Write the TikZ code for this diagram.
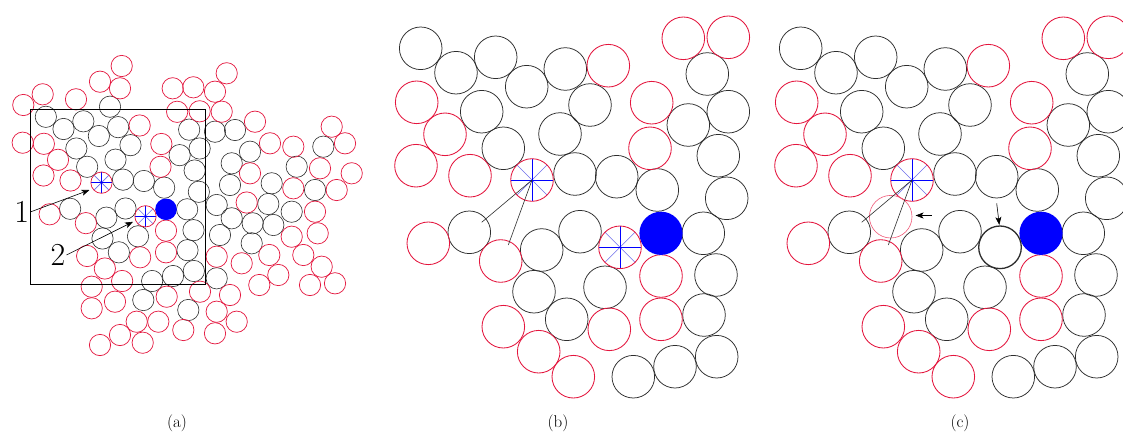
\documentclass[tikz,border=0pt]{standalone}
\usetikzlibrary{arrows.meta}
\definecolor{redc}{RGB}{228,22,62}
\definecolor{pinkc}{RGB}{240,90,120}
\definecolor{blkc}{RGB}{45,45,45}
\definecolor{spoke}{RGB}{0,0,255}
\definecolor{spokelt}{RGB}{110,110,235}
\newcommand\blacklist{420.7/48.3,456/72.7,495.7/57.3,526.7/86.7,565.3/69,481.7/111.7,590/105,560/134,503.3/148.3,575/174,616.7/176.7,657.3/190,469.3/232.3,541.7/250,580/231.7,534/291.7,605/287.3,566.7/319.3,633.3/376.7,675/366.7,716.7/356.7,704/315,716/275,703.3/233.3,726.7/198.3,718.3/155.7,728.3/111.7,688.3/125,707.3/74}
\newcommand\redlist{683.3/38.3,728.3/37.3,608.3/65.7,416.7/102.3,445/134.3,416/165.7,470/175.7,651.7/102.7,650/148.3,428.3/243.3,500.7/261,661/276,661/319.3,609.3/329.3,503.3/326.7,538.7/351.7,573.3/376.7}
\newcommand\ablacklist{110/106.7,215/131.7,235/130,323.3/146.7,250/151.7,231.7/163.3,296.7/166.7,230/185,271.7/183.3,315/190,216.7/205,268.3/204,291.7/211.7,231.7/218.3,252.7/223.3,273.3/225,220/235,251.7/243.3,216.7/278.3,188.3/310,143.3/300}
\newcommand\aredlist{121.7/66,100/81.7,120/88.3,42.7/94.3,23.3/105,76/99.3,172.7/88.3,193.3/87.3,215/91.7,226.7/73.3,221.7/111.7,255/121.7,22.7/142.7,270/143.3,293.3/146.7,331.7/126.7,345/143.3,250/173.3,320/168.3,351.7/173.3,293.3/188.3,336.7/190,246.7/202.5,315/211.7,291.7/236.7,317.7/233.3,216.7/256.7,241.7/263.3,269.3/255,303.3/255,321.7/266.7,278.3/275,259.3/285,310/285,335/283.3,200/291.7,230/295,216.7/311.7,236.7/321.7,183.3/330,215/333.3,91.7/286.7,91.7/308.3,115/301.7,166.7/296.7,136.7/321.7,158.3/321.7,100/345,120/335,142.7/342.7}
\newcommand\drawspokes[2]{%
  \draw[spokelt, line width=0.6pt] (#1,#2) ++(45:21.3) -- ++(225:42.6);
  \draw[spokelt, line width=0.6pt] (#1,#2) ++(135:21.3) -- ++(315:42.6);
  \draw[spoke, line width=0.8pt] (#1,#2) ++(-21.3,0) -- ++(42.6,0);
  \draw[spoke, line width=0.8pt] (#1,#2) ++(0,-21.3) -- ++(0,42.6);
  \draw[rd] (#1,#2) circle[radius=21.3];}
\newcommand\drawbase{%
  \foreach \u/\v in \blacklist {\draw[blk] (\u,\v) circle[radius=21.3];}
  \foreach \u/\v in \redlist {\draw[rd] (\u,\v) circle[radius=21.3];}
  \fill[spoke] (661,233.3) circle[radius=21.6];
  \drawspokes{532}{180}}
\begin{document}
\begin{tikzpicture}[x=1pt,y=-1pt,
  blk/.style={draw=blkc, line width=0.75pt},
  rd/.style={draw=redc, line width=0.85pt},
  arr/.style={draw=black, line width=0.6pt, -{Stealth[length=8pt,width=6pt,inset=2pt]}},
  thinline/.style={draw=blkc, line width=0.6pt},
  lbl/.style={font=\fontsize{17}{17}\selectfont, inner sep=0pt},
  num/.style={font=\fontsize{32}{32}\selectfont, inner sep=1pt}]
\clip (0,0) rectangle (1123,436);
\fill[white] (0,0) rectangle (1123,436);
% ---------- panel (a)
\begin{scope}[shift={(-164.5,92.65)}, scale=0.5, blk/.style={draw=blkc, line width=0.6pt}, rd/.style={draw=redc, line width=0.7pt}]
  \drawbase
  \drawspokes{620}{247.3}
\end{scope}
\foreach \u/\v in \ablacklist {\draw[draw=blkc, line width=0.6pt] (\u,\v) circle[radius=10.65];}
\foreach \u/\v in \aredlist {\draw[draw=redc, line width=0.7pt] (\u,\v) circle[radius=10.65];}
\draw[black, line width=0.8pt] (30.7,109.3) rectangle (205,284);
\node[num] (n1) at (21.7,212) {1};
\node[num] (n2) at (58,255) {2};
\coordinate (t1) at (89.5,190);
\coordinate (t2) at (133,221.8);
\draw[arr] (n1.east) -- (t1);
\draw[arr] (n2.east) -- (t2);
% ---------- panel (b)
\drawbase
\drawspokes{620}{247.3}
\coordinate (s1) at (532,180);
\coordinate (e1) at (481.7,222.3);
\coordinate (e2) at (508.3,245);
\draw[thinline] (s1) -- (e1);
\draw[thinline] (s1) -- (e2);
% ---------- panel (c)
\begin{scope}[shift={(380,0)}]
  \drawbase
  \draw[draw=blkc, line width=1.3pt] (620,247.3) circle[radius=21.3];
  \draw[draw=pinkc, line width=0.6pt] (510.7,216.7) circle[radius=21.3];
  \coordinate (cs1) at (532,180);
  \coordinate (ce1) at (481.7,222.3);
  \coordinate (ce2) at (508.3,245);
  \draw[thinline] (cs1) -- (ce1);
  \draw[thinline] (cs1) -- (ce2);
  \coordinate (la) at (551.7,215.5);
  \coordinate (lb) at (535.5,215.5);
  \draw[arr] (la) -- (lb);
  \coordinate (da) at (616.7,203.5);
  \coordinate (db) at (619.3,225);
  \draw[arr] (da) -- (db);
\end{scope}
% ---------- captions
\node[lbl] (ca) at (177,423) {(a)};
\node[lbl] (cb) at (558,423) {(b)};
\node[lbl] (cc) at (960,423) {(c)};
\end{tikzpicture}
\end{document}
